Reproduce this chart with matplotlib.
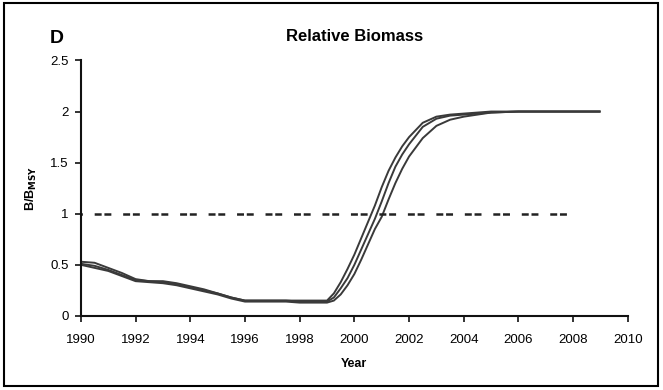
import matplotlib
matplotlib.use("Agg")
import matplotlib.pyplot as plt
from matplotlib.patches import Rectangle

plt.rcParams['font.family'] = ['Liberation Sans', 'DejaVu Sans']
plt.rcParams['lines.scale_dashes'] = False

years = [1990, 1990.5, 1991, 1991.5, 1992, 1992.5, 1993, 1993.5, 1994, 1994.5,
         1995, 1995.5, 1996, 1996.5, 1997, 1997.5, 1998, 1998.5, 1999, 1999.25,
         1999.5, 1999.75, 2000, 2000.25, 2000.5, 2000.75, 2001, 2001.25, 2001.5,
         2001.75, 2002, 2002.5, 2003, 2003.5, 2004, 2004.5, 2005, 2006, 2007,
         2008, 2009]

upper = [0.53, 0.52, 0.47, 0.42, 0.36, 0.34, 0.34, 0.32, 0.29, 0.26,
         0.22, 0.18, 0.15, 0.15, 0.15, 0.15, 0.15, 0.15, 0.15, 0.22,
         0.33, 0.46, 0.60, 0.76, 0.92, 1.08, 1.26, 1.42, 1.55,
         1.66, 1.75, 1.89, 1.95, 1.97, 1.98, 1.99, 2.00, 2.00, 2.00,
         2.00, 2.00]

middle = [0.51, 0.49, 0.45, 0.40, 0.35, 0.34, 0.33, 0.31, 0.28, 0.25,
          0.22, 0.18, 0.15, 0.15, 0.15, 0.15, 0.14, 0.14, 0.14, 0.18,
          0.27, 0.37, 0.50, 0.65, 0.80, 0.95, 1.12, 1.30, 1.46,
          1.58, 1.68, 1.85, 1.93, 1.96, 1.97, 1.98, 1.99, 2.00, 2.00,
          2.00, 2.00]

lower = [0.50, 0.47, 0.44, 0.39, 0.34, 0.33, 0.32, 0.30, 0.27, 0.24,
         0.21, 0.17, 0.14, 0.14, 0.14, 0.14, 0.13, 0.13, 0.13, 0.15,
         0.21, 0.30, 0.41, 0.55, 0.70, 0.85, 0.97, 1.14, 1.30,
         1.44, 1.56, 1.74, 1.86, 1.92, 1.95, 1.97, 1.99, 2.00, 2.00,
         2.00, 2.00]

ref_years = [1990, 2008]
ref_level = [1.0, 1.0]

xticks = list(range(1990, 2011, 2))
yticks = [0, 0.5, 1, 1.5, 2, 2.5]
ytick_labels = ['0', '0.5', '1', '1.5', '2', '2.5']

fig = plt.figure(figsize=(6.63, 3.9), dpi=100)
ax = fig.add_axes([0.122, 0.190, 0.825, 0.655])

line_color = '#3a3a3a'
for s in (upper, middle, lower):
    ax.plot(years, s, color=line_color, lw=1.4, solid_capstyle='butt')

ax.plot(ref_years, ref_level, color='#222222', lw=1.8,
        linestyle=(11, (5.0, 2.0, 5.0, 8.5)))

ax.set_xlim(1990, 2010)
ax.set_ylim(0, 2.5)
ax.set_xticks(xticks)
ax.set_yticks(yticks)
ax.set_yticklabels(ytick_labels)
ax.tick_params(axis='both', direction='out', length=4, width=1.2,
               labelsize=9.5, color='#111111')
ax.tick_params(axis='x', pad=9)
ax.tick_params(axis='y', pad=5)
for side in ('top', 'right'):
    ax.spines[side].set_visible(False)
for side in ('left', 'bottom'):
    ax.spines[side].set_linewidth(1.5)
    ax.spines[side].set_color('#111111')

ax.set_xlabel('Year', fontsize=9, fontweight='bold', labelpad=9)
ax.set_ylabel(r'B/B$_{\mathbf{MSY}}$', fontsize=9, fontweight='bold', labelpad=8)
ax.set_title('Relative Biomass', fontsize=12, fontweight='bold', pad=14)

fig.text(0.086, 0.902, 'D', fontsize=14, fontweight='bold', ha='center', va='center')

fig.patches.append(Rectangle((0.006, 0.010), 0.986, 0.982, transform=fig.transFigure,
                             fill=False, edgecolor='black', lw=1.5))

fig.savefig('out.png', dpi=100)
